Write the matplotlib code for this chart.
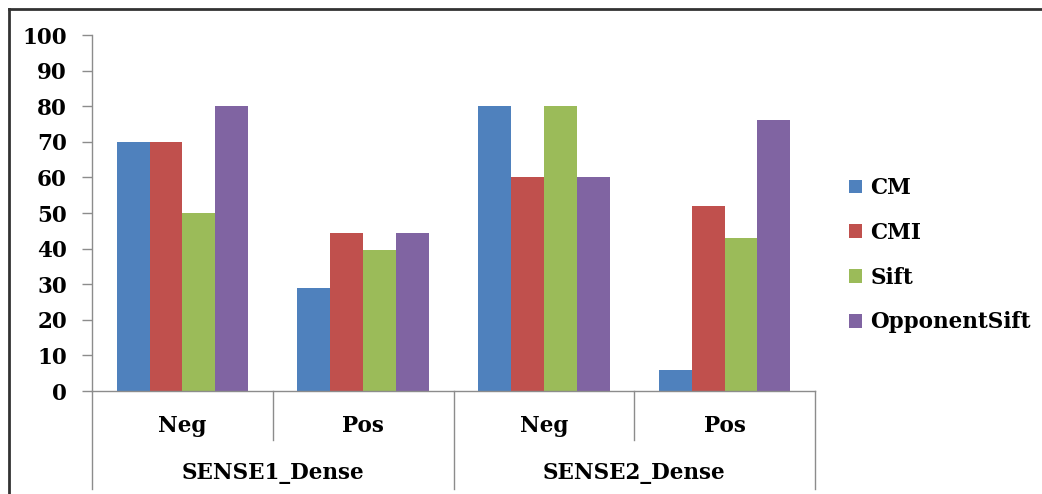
import matplotlib
matplotlib.use("Agg")
import matplotlib.pyplot as plt
from matplotlib.lines import Line2D
from matplotlib.patches import Patch
import numpy as np

series = ["CM", "CMI", "Sift", "OpponentSift"]
sub_labels = ["Neg", "Pos", "Neg", "Pos"]
group_labels = ["SENSE1_Dense", "SENSE2_Dense"]
cm = [70, 29, 80, 6]
cmi = [70, 44.5, 60, 52]
sift = [50, 39.5, 80, 43]
opponent = [80, 44.5, 60, 76]
colors = ["#4F81BD", "#C0504D", "#9BBB59", "#8064A2"]
yticks = list(range(0, 101, 10))

plt.rcParams['font.family'] = ['DejaVu Serif']
plt.rcParams['font.weight'] = 'bold'

FS = 15.5
W, H = 1042, 494
fig = plt.figure(figsize=(W / 100, H / 100), dpi=100)
ax = fig.add_axes([92 / W, 103 / H, (815 - 92) / W, 356 / H])

x = np.arange(len(sub_labels))
w = 1 / 5.5
data = [cm, cmi, sift, opponent]
for i, (vals, c, name) in enumerate(zip(data, colors, series)):
    ax.bar(x + (i - 1.5) * w, vals, width=w, color=c, label=name, zorder=2)

ax.set_xlim(-0.5, len(sub_labels) - 0.5)
ax.set_ylim(0, 100)
ax.set_yticks(yticks)
ax.set_yticklabels([str(t) for t in yticks], fontsize=FS, fontweight='bold')
ax.tick_params(axis='y', direction='out', length=7, width=1, color='#8c8c8c', pad=11)
ax.set_xticks([])
for s in ['top', 'right']:
    ax.spines[s].set_visible(False)
for s in ['left', 'bottom']:
    ax.spines[s].set_color('#8c8c8c')
    ax.spines[s].set_linewidth(1)

trans = ax.get_xaxis_transform()
# sub-category labels
for xi, lab in zip(x, sub_labels):
    ax.text(xi, -0.098, lab, transform=trans, ha='center', va='center',
            fontsize=FS, fontweight='bold')
# group labels
for gi, lab in enumerate(group_labels):
    ax.text(gi * 2 + 0.5, -0.23, lab, transform=trans, ha='center', va='center',
            fontsize=FS, fontweight='bold')
# dividers
for b in [0.5, 2.5]:
    ax.add_line(Line2D([b, b], [0, -0.1376], transform=trans, color='#8c8c8c',
                       lw=1, clip_on=False))
for b in [-0.5, 1.5, 3.5]:
    ax.add_line(Line2D([b, b], [0, -0.275], transform=trans, color='#8c8c8c',
                       lw=1, clip_on=False))

handles = [Patch(facecolor=c, edgecolor='none') for c in colors]
leg = fig.legend(handles, series, loc='upper left',
                 bbox_to_anchor=(849 / W, 1 - 177 / H), frameon=False,
                 prop={'family': 'DejaVu Serif', 'weight': 'bold', 'size': FS},
                 handlelength=0.6, handleheight=0.6, handletextpad=0.4,
                 labelspacing=1.06, borderaxespad=0, borderpad=0)

# outer frame (top and left visible)
fig.add_artist(Line2D([8.5 / W, 1.0], [1 - 9 / H, 1 - 9 / H], transform=fig.transFigure,
                      color='#333333', lw=2))
fig.add_artist(Line2D([8.5 / W, 8.5 / W], [0, 1 - 9 / H], transform=fig.transFigure,
                      color='#333333', lw=2))

fig.savefig("out.png", dpi=100, facecolor='white')
